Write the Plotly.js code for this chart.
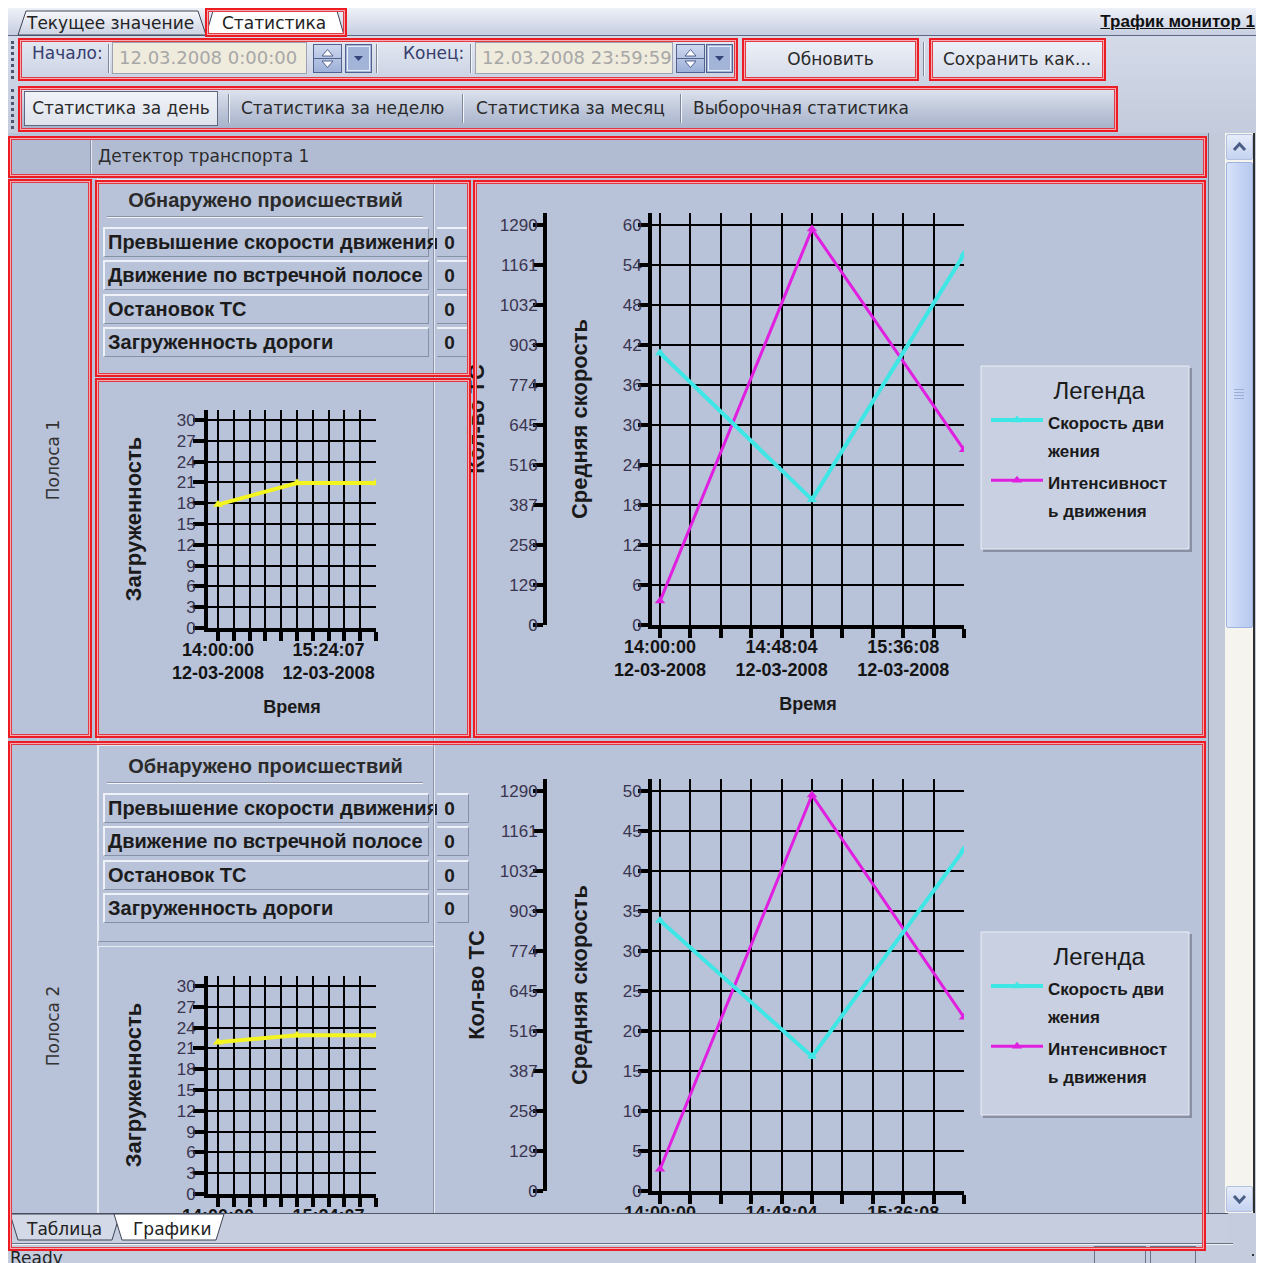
<!DOCTYPE html>
<html lang="ru">
<head>
<meta charset="utf-8">
<title>Статистика — Трафик монитор 1</title>
<script src="https://cdn.plot.ly/plotly-3.0.1.min.js"></script>
<style>
html,body{margin:0;padding:0;}
body{width:1264px;height:1263px;position:relative;overflow:hidden;background:#ffffff;}
.a{position:absolute;box-sizing:border-box;white-space:nowrap;}
.red{position:absolute;box-sizing:border-box;border:2px solid #ec1c24;box-shadow:inset 0 0 0 1px #f5a9b0, inset 0 0 0 2px #e23a42;pointer-events:none;z-index:60;}
</style>
</head>
<body>
<script>
// ---------------- DATA ----------------
const timePoints      = ['2008-03-12 14:00:00', '2008-03-12 15:00:05', '2008-03-12 16:00:10'];
const bigTickTimes    = ['2008-03-12 14:00:00', '2008-03-12 14:48:04', '2008-03-12 15:36:08'];
const bigTickLabels   = ['14:00:00<br>12-03-2008', '14:48:04<br>12-03-2008', '15:36:08<br>12-03-2008'];
const smallTickTimes  = ['2008-03-12 14:00:00', '2008-03-12 15:24:07'];
const smallTickLabels = ['14:00:00<br>12-03-2008', '15:24:07<br>12-03-2008'];
const countTickValues = [0, 129, 258, 387, 516, 645, 774, 903, 1032, 1161, 1290];
const tickIntervalSec = 721;            // 12:01 between time-axis ticks

const laneNames     = ['Полоса 1', 'Полоса 2'];
const incidentTypes = ['Превышение скорости движения', 'Движение по встречной полосе', 'Остановок ТС', 'Загруженность дороги'];
const lane1Incidents = [0, 0, 0, 0];
const lane2Incidents = [0, 0, 0, 0];

const lane1Speed     = [40.8, 18.8, 55.6];
const lane1Intensity = [77, 1277, 565];
const lane1Load      = [17.8, 20.9, 20.9];
const lane2Speed     = [33.8, 16.8, 42.7];
const lane2Intensity = [70, 1277, 560];
const lane2Load      = [21.9, 22.9, 22.9];

const lane1SpeedAxis = {max: 60, step: 6};
const lane2SpeedAxis = {max: 50, step: 5};
const loadAxis       = {max: 30, step: 3};
const countAxisMax   = 1290;

// ---------------- HELPERS ----------------
const UI = "'DejaVu Sans',sans-serif";
const CH = "'Liberation Sans',Arial,sans-serif";
const BG = '#b8c2d8';
const MS = s => Date.parse(s.replace(' ', 'T') + 'Z');

function el(parent, x, y, w, h, css, html, cls) {
  const d = document.createElement('div');
  d.className = 'a' + (cls ? ' ' + cls : '');
  d.style.cssText = `left:${x}px;top:${y}px;width:${w}px;height:${h}px;` + (css || '');
  if (html != null) d.innerHTML = html;
  parent.appendChild(d);
  return d;
}
function red(parent, x, y, w, h) { return el(parent, x, y, w, h, '', null, 'red'); }
function txt(parent, x, y, w, h, text, css) {
  return el(parent, x, y, w, h, `line-height:${h}px;` + (css || ''), text);
}
function sep(parent, x, y, h) {
  el(parent, x, y, 1, h, 'background:#7d869c');
  el(parent, x + 1, y, 1, h, 'background:#f4f6fa');
}
const uiFont = `font-family:${UI};font-size:17px;color:#2a2a2a`;

const body = document.body;

// ---------------- FRAME ----------------
el(body, 8, 8, 1248, 1255, 'background:#c4ccdd');
el(body, 8, 8, 1248, 28, 'background:linear-gradient(#eef1f7,#c6cee0);border-bottom:1px solid #5f6984');

// top tabs
el(body, 0, 0, 420, 40, '', `
<svg width="420" height="40" xmlns="http://www.w3.org/2000/svg">
 <defs><linearGradient id="tg" x1="0" y1="0" x2="0" y2="1"><stop offset="0" stop-color="#f7f8fb"/><stop offset="1" stop-color="#ccd3e3"/></linearGradient></defs>
 <polygon points="18,35 26,11 198,11 206,35" fill="url(#tg)" stroke="#3f4556" stroke-width="1"/>
 <polygon points="206,35 213,11 337,11 344,35" fill="#ffffff" stroke="#3f4556" stroke-width="1"/>
 <text x="27" y="29" font-family="DejaVu Sans" font-size="17" fill="#222">Текущее значение</text>
 <text x="222" y="29" font-family="DejaVu Sans" font-size="17" fill="#222">Статистика</text>
</svg>`);
red(body, 205, 8, 142, 29);
txt(body, 1040, 12, 215, 20, 'Трафик монитор 1', `text-align:right;font-family:${CH};font-weight:bold;font-size:17px;text-decoration:underline;color:#111`);

// toolbar
el(body, 8, 36, 1248, 97, 'background:linear-gradient(#d4dae8,#c3cbdc)');
el(body, 11, 41, 4, 38, 'border-left:3px dotted #4b5470');
el(body, 11, 89, 4, 40, 'border-left:3px dotted #4b5470');

// row 1
el(body, 20, 40, 716, 39, 'background:linear-gradient(#e3e8f1,#cbd2e3)');
function dateBox(x, w, value) {
  el(body, x, 42, w, 32, 'background:#efebdd;border:1px solid #9da3b3');
  txt(body, x + 7, 42, w - 10, 32, value, `font-family:${UI};font-size:18px;color:#a7a7a7`);
}
function spinBtn(x) {
  el(body, x, 44, 29, 29, '', `
  <svg width="29" height="29" xmlns="http://www.w3.org/2000/svg">
   <defs><linearGradient id="sg${x}" x1="0" y1="0" x2="0" y2="1"><stop offset="0" stop-color="#cfd9ef"/><stop offset="1" stop-color="#9cafd7"/></linearGradient></defs>
   <rect x="0.5" y="0.5" width="28" height="28" fill="url(#sg${x})" stroke="#52628f"/>
   <line x1="1" y1="14.5" x2="28" y2="14.5" stroke="#52628f"/>
   <polygon points="9,12 14.5,5.5 20,12" fill="#ffffff" stroke="#33447a" stroke-width="0.8"/>
   <polygon points="9,17 14.5,23.5 20,17" fill="#ffffff" stroke="#33447a" stroke-width="0.8"/>
  </svg>`);
}
function dropBtn(x) {
  el(body, x, 44, 27, 29, '', `
  <svg width="27" height="29" xmlns="http://www.w3.org/2000/svg">
   <rect x="0.5" y="0.5" width="26" height="28" fill="#a3b4d9" stroke="#52628f"/>
   <rect x="2.5" y="2.5" width="22" height="24" fill="none" stroke="#e8eef9"/>
   <polygon points="9,12 13.5,17 18,12" fill="#33447a"/>
  </svg>`);
}
txt(body, 32, 42, 76, 22, 'Начало:', `font-family:${UI};font-size:17px;color:#363e6e`);
sep(body, 108, 44, 29);
dateBox(112, 195, '12.03.2008 0:00:00');
spinBtn(313); dropBtn(345);
sep(body, 376, 44, 29);
txt(body, 403, 42, 68, 22, 'Конец:', `font-family:${UI};font-size:17px;color:#363e6e`);
sep(body, 470, 44, 29);
dateBox(475, 198, '12.03.2008 23:59:59');
spinBtn(676); dropBtn(706);
red(body, 18, 38, 720, 43);

el(body, 744, 40, 173, 39, 'background:linear-gradient(#eef1f8,#d5dbe9)');
txt(body, 744, 40, 173, 39, 'Обновить', `text-align:center;${uiFont}`);
red(body, 742, 38, 177, 43);
sep(body, 923, 42, 34);
el(body, 931, 40, 173, 39, 'background:linear-gradient(#eef1f8,#d5dbe9)');
txt(body, 943, 40, 160, 39, 'Сохранить как...', uiFont);
red(body, 929, 38, 177, 43);

// row 2
el(body, 20, 88, 1096, 43, 'background:linear-gradient(#dfe4ef,#bcc5d8 55%,#a4afc8)');
el(body, 24, 91, 194, 35, 'background:linear-gradient(#f1f3f8,#dde2ec);border:1px solid #5f6880');
txt(body, 24, 91, 194, 35, 'Статистика за день', `text-align:center;${uiFont}`);
sep(body, 228, 94, 29);
txt(body, 241, 91, 220, 35, 'Статистика за неделю', uiFont);
sep(body, 462, 94, 29);
txt(body, 476, 91, 204, 35, 'Статистика за месяц', uiFont);
sep(body, 680, 94, 29);
txt(body, 693, 91, 235, 35, 'Выборочная статистика', uiFont);
red(body, 18, 86, 1100, 46);

// ---------------- VIEWPORT ----------------
const vp = el(body, 8, 133, 1200, 1080, `overflow:hidden;background:${BG}`);
const pg = el(vp, -8, -133, 1264, 1500, '');

el(pg, 8, 136, 1198, 41, 'background:#b1bbd2');
el(pg, 90, 137, 1, 39, 'background:#858ea4');
el(pg, 91, 137, 1, 39, 'background:#e6eaf2');
txt(pg, 98, 136, 400, 41, 'Детектор транспорта 1', `font-family:${UI};font-size:17px;color:#2c2c2c`);
red(pg, 8, 136, 1199, 42);

// ---------------- CHARTS ----------------
const gridBlack = {showgrid: true, gridcolor: '#000', gridwidth: 2, zeroline: false};
const tickFontY = {family: CH, size: 17, color: '#3a3550'};
const titleFont = {family: CH, size: 22, weight: 'bold', color: '#1a1a1a'};

function timeAxisBase(tickTimes, tickLabels, padSec) {
  return Object.assign({
    type: 'date',
    range: [MS(timePoints[0]) - padSec * 1000, MS(timePoints[timePoints.length - 1])],
    tickmode: 'array', tickvals: tickTimes, ticktext: tickLabels,
    ticks: 'outside', ticklen: 9, tickwidth: 4, tickcolor: '#000',
    showline: true, linecolor: '#000', linewidth: 4,
    ticklabelstandoff: -7,
    tickfont: {family: CH, size: 18, weight: 'bold', color: '#141414'},
    minor: {tickmode: 'linear', tick0: timePoints[0], dtick: tickIntervalSec * 1000,
            showgrid: true, gridcolor: '#000', gridwidth: 2,
            ticks: 'outside', ticklen: 9, tickwidth: 4, tickcolor: '#000'},
    title: {text: 'Время', font: {family: CH, size: 18, weight: 'bold', color: '#1a1a1a'}, standoff: 19},
    fixedrange: true
  }, gridBlack);
}
// second time axis: only the part of the tick bars that crosses above the axis line
function timeAxisInner(base) {
  return {
    type: 'date', overlaying: 'x', anchor: 'y', side: 'bottom', range: base.range,
    tickmode: 'linear', tick0: timePoints[0], dtick: tickIntervalSec * 1000,
    ticks: 'inside', ticklen: 5, tickwidth: 4, tickcolor: '#000',
    showticklabels: false, showgrid: false, showline: false, zeroline: false, fixedrange: true
  };
}

function smallChart(top, load) {
  const d = el(pg, 95, top + 200, 375, 359, '');
  // plot area: x 208..376, y 410..628 (page); 30 units = 208 px
  const xa = timeAxisBase(smallTickTimes, smallTickLabels, tickIntervalSec * 10 / 15.8);
  const loadRange = [0, loadAxis.max * 218 / 208];
  const layout = {
    width: 375, height: 359,
    margin: {l: 113, r: 94, t: 32, b: 109, autoexpand: false},
    paper_bgcolor: 'rgba(0,0,0,0)', plot_bgcolor: 'rgba(0,0,0,0)',
    showlegend: false,
    xaxis: xa,
    xaxis2: timeAxisInner(xa),
    yaxis: Object.assign({
      range: loadRange, tickmode: 'linear', tick0: 0, dtick: loadAxis.step,
      ticks: 'outside', ticklen: 11, tickwidth: 4, tickcolor: '#000', ticklabelstandoff: -6,
      showline: true, linecolor: '#000', linewidth: 4,
      tickfont: tickFontY,
      title: {text: 'Загруженность', font: titleFont, standoff: 30},
      fixedrange: true
    }, gridBlack),
    yaxis2: {
      range: loadRange, tickmode: 'linear', tick0: 0, dtick: loadAxis.step,
      overlaying: 'y', anchor: 'x', side: 'left',
      ticks: 'inside', ticklen: 10, tickwidth: 4, tickcolor: '#000',
      showticklabels: false, showgrid: false, showline: false, zeroline: false, fixedrange: true
    }
  };
  const data = [{
    x: timePoints, y: load, type: 'scatter', mode: 'lines+markers',
    line: {color: '#f4f41e', width: 4}, marker: {symbol: 'triangle-up', size: 9, color: '#f4f41e'},
    name: 'Загруженность'
  }];
  Plotly.newPlot(d, data, layout, {staticPlot: true, displayModeBar: false});
}

function bigChart(top, speed, intensity, speedAxis) {
  const W = 765, H = 557, L = 105, R = 241, T = 33, B = 112;
  const d = el(pg, 440, top + 2, W, H, '');
  const pw = W - L - R;              // 419: paper from x=545 to 964
  const ph = H - T - B;              // 412: y 213..625
  const px = v => (v - 545) / pw;     // page x -> paper
  const py = v => (625 - v) / ph;     // page y -> paper
  const nm = s => s.map(p => `<span style="font-size:17px"><b>${p}</b></span>`).join('<br>');
  const xa = Object.assign(timeAxisBase(bigTickTimes, bigTickLabels, tickIntervalSec * 8 / 30.4),
                           {domain: [px(652), 1], anchor: 'y'});
  const countRange = [0, countAxisMax * ph / 400];
  const speedRange = [0, speedAxis.max * ph / 400];
  const layout = {
    width: W, height: H,
    margin: {l: L, r: R, t: T, b: B, autoexpand: false},
    paper_bgcolor: 'rgba(0,0,0,0)', plot_bgcolor: 'rgba(0,0,0,0)',
    showlegend: true,
    xaxis: xa,
    xaxis2: Object.assign(timeAxisInner(xa), {domain: xa.domain}),
    yaxis: {   // count axis (Кол-во ТС)
      range: countRange, tickmode: 'array', tickvals: countTickValues,
      anchor: 'free', position: 0, side: 'left',
      showgrid: false, zeroline: false,
      ticks: 'outside', ticklen: 10, tickwidth: 4, tickcolor: '#000', ticklabelstandoff: -8,
      showline: true, linecolor: '#000', linewidth: 4,
      tickfont: tickFontY,
      title: {text: 'Кол-во ТС', font: titleFont, standoff: 8},
      fixedrange: true
    },
    yaxis2: Object.assign({  // speed axis (Средняя скорость)
      range: speedRange, tickmode: 'linear', tick0: 0, dtick: speedAxis.step,
      overlaying: 'y', anchor: 'x', side: 'left',
      ticks: 'outside', ticklen: 10, tickwidth: 4, tickcolor: '#000', ticklabelstandoff: -7,
      showline: true, linecolor: '#000', linewidth: 4,
      tickfont: tickFontY,
      title: {text: 'Средняя скорость', font: titleFont, standoff: 30},
      fixedrange: true
    }, gridBlack),
    yaxis3: {  // inner half of the count-axis tick bars
      range: countRange, tickmode: 'array', tickvals: countTickValues,
      overlaying: 'y', anchor: 'free', position: 0, side: 'left',
      ticks: 'inside', ticklen: 11, tickwidth: 4, tickcolor: '#000',
      showticklabels: false, showgrid: false, showline: false, zeroline: false, fixedrange: true
    },
    yaxis4: {  // inner half of the speed-axis tick bars
      range: speedRange, tickmode: 'linear', tick0: 0, dtick: speedAxis.step,
      overlaying: 'y', anchor: 'x', side: 'left',
      ticks: 'inside', ticklen: 8, tickwidth: 4, tickcolor: '#000',
      showticklabels: false, showgrid: false, showline: false, zeroline: false, fixedrange: true
    },
    legend: {
      x: px(986), y: py(368), xanchor: 'left', yanchor: 'top',
      bgcolor: 'rgba(0,0,0,0)', borderwidth: 0,
      font: {family: CH, size: 22, color: '#1a1a1a'},
      title: {text: '\u00a0\u00a0\u00a0\u00a0\u00a0\u00a0Легенда', side: 'top center', font: {family: CH, size: 24, color: '#1a1a1a'}},
      itemwidth: 52, valign: 'top', tracegroupgap: 0, traceorder: 'normal'
    },
    shapes: [
      {type: 'rect', xref: 'paper', yref: 'paper', layer: 'below',
       x0: px(983), x1: px(1192), y0: py(552), y1: py(368),
       fillcolor: '#8990a4', line: {width: 0}},
      {type: 'rect', xref: 'paper', yref: 'paper', layer: 'below',
       x0: px(981), x1: px(1189), y0: py(549), y1: py(366),
       fillcolor: '#c8d0e1', line: {width: 1, color: '#e9edf5'}}
    ]
  };
  const data = [
    {x: timePoints, y: speed, yaxis: 'y2', type: 'scatter', mode: 'lines+markers',
     name: nm(['Скорость дви', 'жения']), legendgroup: 'a',
     line: {color: '#3ee6e6', width: 4}, marker: {symbol: 'triangle-up', size: 9, color: '#3ee6e6'}},
    {x: timePoints, y: intensity, yaxis: 'y', type: 'scatter', mode: 'lines+markers',
     name: nm(['Интенсивност', 'ь движения']), legendgroup: 'b',
     line: {color: '#e01fe0', width: 3}, marker: {symbol: 'triangle-up', size: 9, color: '#e01fe0'}}
  ];
  Plotly.newPlot(d, data, layout, {staticPlot: true, displayModeBar: false});
}

// ---------------- LANES ----------------
function lane(idx, top, speed, intensity, load, incidents, speedAxis) {
  el(pg, 97, top, 1, 566, 'background:#e3e8f1');
  txt(pg, 53 - 70, top + 282 - 12, 140, 24, laneNames[idx],
      `text-align:center;transform:rotate(-90deg);font-family:${UI};font-size:17px;color:#333`);
  el(pg, 98, top + 1, 336, 197, 'border-top:1px solid #e6eaf2;border-left:1px solid #e6eaf2;border-bottom:1px solid #8b94a9;border-right:1px solid #8b94a9');
  txt(pg, 98, top + 8, 335, 28, 'Обнаружено происшествий',
      `text-align:center;font-family:${CH};font-weight:bold;font-size:20px;color:#2a2a2a`);
  el(pg, 107, top + 38, 316, 2, 'border-top:1px solid #8a93a8;border-bottom:1px solid #f3f5f9');
  for (let i = 0; i < incidentTypes.length; i++) {
    const y = Math.round(top + 49 + i * 33.3);
    el(pg, 103, y, 326, 30, `border-top:2px solid #eef1f7;border-left:2px solid #eef1f7;border-bottom:1px solid #8791a6;border-right:1px solid #8791a6;padding-left:3px;line-height:27px;font-family:${CH};font-weight:bold;font-size:20px;color:#1c1c1c`, incidentTypes[i]);
    el(pg, 437, y, 32, 30, `background:${BG};border-top:2px solid #eef1f7;border-bottom:1px solid #8791a6;border-right:1px solid #8791a6;line-height:27px;text-align:center;padding-right:6px;font-family:${CH};font-weight:bold;font-size:19px;color:#1c1c1c`, String(incidents[i]));
  }
  el(pg, 433, top + 1, 1, 565, 'background:#8c95aa');
  el(pg, 434, top + 1, 1, 565, 'background:#e3e8f1');
  el(pg, 98, top + 202, 336, 364, 'border-top:1px solid #e6eaf2;border-left:1px solid #e6eaf2');
  smallChart(top, load);
  bigChart(top, speed, intensity, speedAxis);
  if (idx === 0) {
    red(pg, 8, top + 1, 84, 559);
    red(pg, 95, top + 2, 376, 197);
    red(pg, 95, top + 200, 376, 360);
    red(pg, 473, top + 2, 733, 558);
  }
}
lane(0, 178, lane1Speed, lane1Intensity, lane1Load, lane1Incidents, lane1SpeedAxis);
lane(1, 744, lane2Speed, lane2Intensity, lane2Load, lane2Incidents, lane2SpeedAxis);

// ---------------- SCROLLBAR ----------------
el(body, 1208, 133, 48, 1080, 'background:#c3cbda');
el(body, 1208, 133, 1, 1080, 'background:#6d7589');
el(body, 1225, 133, 30, 1080, 'background:#f6f4ee;border-right:2px solid #2e2e2e');
el(body, 1226, 134, 27, 26, 'background:linear-gradient(#e6ecf9,#c5d3f1);border:1px solid #b3c1df;border-radius:2px', `
 <svg width="25" height="24" xmlns="http://www.w3.org/2000/svg"><polyline points="7,15 12.5,9 18,15" fill="none" stroke="#4b5f86" stroke-width="3"/></svg>`);
el(body, 1226, 162, 27, 466, 'background:linear-gradient(90deg,#d8e3fb,#c2d2f4 60%,#b7c9ef);border:1px solid #9fb3df;border-radius:2px');
for (let k = 0; k < 4; k++) el(body, 1234, 389 + k * 3, 10, 1, 'background:#9aaed8');
el(body, 1226, 1186, 27, 26, 'background:linear-gradient(#e6ecf9,#c5d3f1);border:1px solid #b3c1df;border-radius:2px', `
 <svg width="25" height="24" xmlns="http://www.w3.org/2000/svg"><polyline points="7,9 12.5,15 18,9" fill="none" stroke="#4b5f86" stroke-width="3"/></svg>`);

// ---------------- BOTTOM TABS / STATUS ----------------
el(body, 8, 1213, 1220, 30, 'background:#c5cddf;border-top:1px solid #4f576b');
el(body, 0, 1210, 260, 36, '', `
<svg width="260" height="36" xmlns="http://www.w3.org/2000/svg">
 <polygon points="10,4 18,30 112,30 120,4" fill="#d3d9e6" stroke="#3f4556"/>
 <polygon points="114,4 122,30 216,30 224,4" fill="#ffffff" stroke="#3f4556"/>
 <text x="27" y="25" font-family="DejaVu Sans" font-size="17" fill="#222">Таблица</text>
 <text x="133" y="25" font-family="DejaVu Sans" font-size="17" fill="#222">Графики</text>
</svg>`);
el(body, 8, 1243, 1225, 2, 'border-top:1px solid #6a7288;border-bottom:1px solid #f0f2f7');
txt(body, 10, 1245, 100, 26, 'Ready', `font-family:${UI};font-size:17px;color:#222`);
el(body, 1094, 1246, 52, 20, 'border-left:1px solid #6a7288;border-top:1px solid #6a7288;border-right:1px solid #6a7288');
el(body, 1150, 1246, 46, 20, 'border-left:1px solid #6a7288;border-top:1px solid #6a7288;border-right:1px solid #6a7288');
el(body, 1252, 1254, 2, 2, 'background:#333');

red(body, 8, 741, 1198, 510);
</script>
</body>
</html>
